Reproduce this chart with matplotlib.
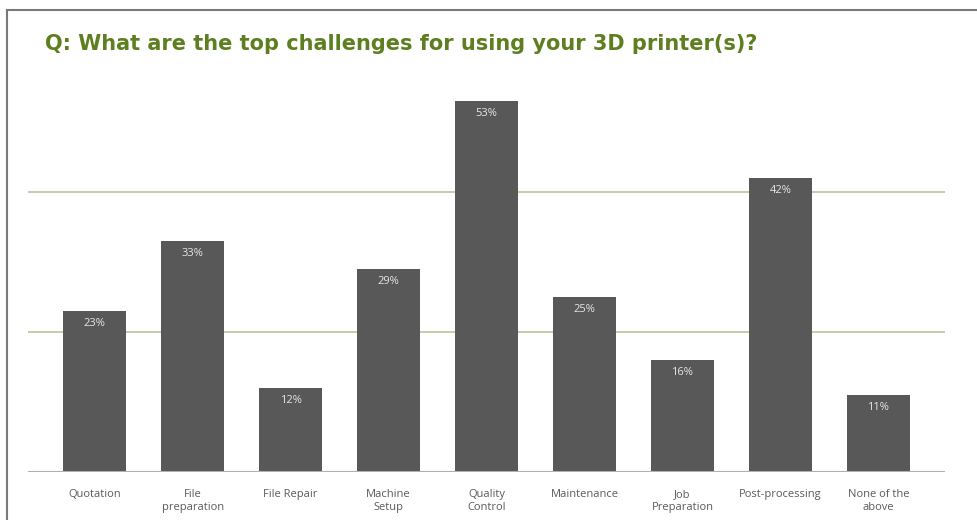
import matplotlib
matplotlib.use("Agg")
import matplotlib.pyplot as plt
from matplotlib.lines import Line2D

# Survey results: share of respondents naming each challenge
categories = ["Quotation", "File\npreparation", "File Repair", "Machine\nSetup",
              "Quality\nControl", "Maintenance", "Job\nPreparation",
              "Post-processing", "None of the\nabove"]
shares = [23, 33, 12, 29, 53, 25, 16, 42, 11]
grid_levels = [20, 40]

W, H = 977, 520
fig = plt.figure(figsize=(W / 100, H / 100), dpi=100)
fig.patch.set_facecolor("white")

# Frame around the card (left and top edges only are in view)
fig.add_artist(Line2D([7 / W, 7 / W], [0, 1 - 10 / H], color="#7a7a7a", lw=1.5))
fig.add_artist(Line2D([7 / W, 1], [1 - 10 / H, 1 - 10 / H], color="#7a7a7a", lw=1.5))

fig.text(45 / W, 1 - 44 / H, "Q: What are the top challenges for using your 3D printer(s)?",
         family="DejaVu Sans", weight="bold", fontsize=15, color="#5e7f1f", va="center")

# Axes placed in pixel terms: baseline at y=472, 0..60 scale
ax_left, ax_right = 28, 945
ax_bottom = 472
px_per_pct = 7.0
ymax = 60
ax = fig.add_axes([ax_left / W, (H - ax_bottom) / H,
                   (ax_right - ax_left) / W, ymax * px_per_pct / H])

x = range(len(categories))
bars = ax.bar(x, shares, width=0.65, color="#585858", zorder=3)

for lvl in grid_levels:
    ax.axhline(lvl, color="#b7c59c", lw=1.2, zorder=1)
ax.axhline(0, color="#b0b0b0", lw=1.5, zorder=4)

for b, v in zip(bars, shares):
    ax.annotate(f"{v}%", (b.get_x() + b.get_width() / 2, v), xytext=(0, -9),
                textcoords="offset points", ha="center", va="center",
                fontsize=8, color="#e6e6e6", family="Open Sans", zorder=5)

ax.set_xlim(-0.68, len(categories) - 1 + 0.68)
ax.set_ylim(0, ymax)
ax.set_xticks(list(x))
ax.set_xticklabels(categories, fontsize=8, color="#5a5a5a", family="Open Sans",
                   linespacing=1.25)
ax.tick_params(axis="x", length=0, pad=12)
ax.set_yticks([])
for s in ax.spines.values():
    s.set_visible(False)
ax.patch.set_alpha(0)

fig.savefig("out.png", dpi=100)
